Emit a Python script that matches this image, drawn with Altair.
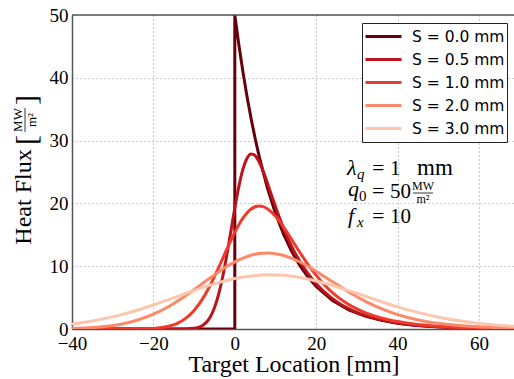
import altair as alt
import pandas as pd

# ---- data ----
labels = ["S = 0.0 mm", "S = 0.5 mm", "S = 1.0 mm", "S = 2.0 mm", "S = 3.0 mm"]
colors = ["#67000d", "#bc141a", "#ef3b2c", "#fc8a6a", "#fcc5ad"]

x_s0 = [-40, 0, 0, 1, 2, 3, 4, 5, 6, 8, 10, 12, 14, 16, 18, 20, 24, 28, 32, 36, 40, 44, 48, 52, 56, 60, 64, 70]
q_s0 = [0, 0, 50, 45.24, 40.94, 37.04, 33.52, 30.33, 27.44, 22.47, 18.39, 15.06, 12.33, 10.09, 8.26, 6.77,
        4.54, 3.04, 2.04, 1.37, 0.92, 0.61, 0.41, 0.28, 0.18, 0.12, 0.08, 0.05]

x_s05 = [-40, -14, -12, -10, -9, -8, -7, -6, -5, -4, -3, -2, -1, 0, 1, 2, 3, 4, 5, 6, 7, 8, 9, 10, 12, 14,
         16, 18, 20, 22, 24, 26, 28, 30, 32, 36, 40, 44, 48, 52, 56, 60, 64, 70]
q_s05 = [0, 0.003, 0.016, 0.106, 0.245, 0.527, 1.054, 1.949, 3.383, 5.463, 8.237, 11.63, 15.42, 19.26, 22.72,
         25.45, 27.19, 27.88, 27.62, 26.59, 25.06, 23.24, 21.33, 19.45, 16.01, 13.12, 10.75, 8.80, 7.20, 5.90,
         4.83, 3.95, 3.24, 2.65, 2.17, 1.45, 0.97, 0.65, 0.44, 0.29, 0.20, 0.13, 0.09, 0.05]

x_s1 = [-40, -30, -24, -20, -18, -16, -14, -12, -10, -8, -6, -4, -2, 0, 2, 4, 5, 6, 7, 8, 10, 12, 14, 16, 18,
        20, 22, 24, 26, 28, 30, 32, 36, 40, 44, 48, 52, 56, 60, 64, 70]
q_s1 = [0, 0.001, 0.015, 0.097, 0.222, 0.474, 0.938, 1.728, 2.957, 4.715, 7.006, 9.727, 12.63, 15.39, 17.64,
        19.10, 19.47, 19.60, 19.49, 19.16, 17.96, 16.22, 14.22, 12.19, 10.26, 8.54, 7.06, 5.80, 4.76, 3.90,
        3.20, 2.62, 1.75, 1.18, 0.79, 0.53, 0.35, 0.24, 0.16, 0.11, 0.06]

x_s2 = [-40, -36, -32, -28, -24, -20, -16, -12, -8, -4, -2, 0, 2, 4, 6, 8, 10, 12, 14, 16, 18, 20, 24, 28, 32,
        36, 40, 44, 48, 52, 56, 60, 64, 70]
q_s2 = [0.082, 0.187, 0.394, 0.770, 1.396, 2.349, 3.672, 5.337, 7.218, 9.094, 9.94, 10.69, 11.30, 11.75, 12.02,
        12.10, 11.99, 11.70, 11.25, 10.67, 9.97, 9.195, 7.537, 5.902, 4.447, 3.232, 2.292, 1.597, 1.088, 0.739,
        0.500, 0.339, 0.231, 0.124]

x_s3 = [-40, -36, -32, -28, -24, -20, -16, -12, -8, -4, 0, 4, 8, 12, 16, 20, 24, 28, 32, 36, 40, 44, 48, 52,
        56, 60, 64, 70]
q_s3 = [0.795, 1.166, 1.647, 2.255, 2.988, 3.821, 4.731, 5.678, 6.579, 7.382, 8.040, 8.447, 8.630, 8.558,
        8.203, 7.644, 6.932, 6.100, 5.228, 4.347, 3.532, 2.803, 2.172, 1.648, 1.225, 0.894, 0.642, 0.381]

series = [(labels[0], x_s0, q_s0), (labels[1], x_s05, q_s05), (labels[2], x_s1, q_s1),
          (labels[3], x_s2, q_s2), (labels[4], x_s3, q_s3)]

SERIF = "Liberation Serif"

color_scale = alt.Scale(domain=labels, range=colors)
x_scale = alt.Scale(domain=[-40, 68.6], nice=False, zero=False)
y_scale = alt.Scale(domain=[0, 50], nice=False)

x_axis = alt.Axis(values=[-40, -20, 0, 20, 40, 60], title=None, format="d", labelFlush=False)
y_axis = alt.Axis(values=[0, 10, 20, 30, 40, 50], title=None, format="d", labelFlush=False)

legend = alt.Legend(orient="none", legendX=290, legendY=8, title=None, symbolType="stroke",
                    symbolSize=1296, symbolStrokeWidth=3, labelFont="DejaVu Sans", labelFontSize=15.5,
                    labelColor="black", labelOffset=9, padding=2, rowPadding=0, clipHeight=23,
                    strokeColor="#222222", fillColor="white", cornerRadius=0, labelLimit=200)

layers = []
for i, (lab, xs, qs) in enumerate(series):
    df = pd.DataFrame({"x": xs, "q": qs, "S": lab, "i": list(range(len(xs)))})
    enc = dict(
        x=alt.X("x:Q", scale=x_scale, axis=x_axis),
        y=alt.Y("q:Q", scale=y_scale, axis=y_axis),
        color=alt.Color("S:N", scale=color_scale, legend=legend if i == 0 else None),
        order=alt.Order("i:Q"),
    )
    interp = "linear" if i == 0 else "monotone"
    layers.append(alt.Chart(df).mark_line(strokeWidth=3, clip=True, interpolate=interp).encode(**enc))

dummy = pd.DataFrame({"d": [0]})

# top frame line
layers.append(alt.Chart(dummy).mark_rule(color="#555555", strokeWidth=1.5).encode(
    y=alt.datum(50, scale=y_scale)))


def txt(text, x, y, size, font=SERIF, style="normal", angle=0, align="left", baseline="alphabetic"):
    return alt.Chart(dummy).mark_text(text=text, x=x, y=y, fontSize=size, font=font, fontStyle=style,
                                      angle=angle, align=align, baseline=baseline, color="black")


# x-axis title
layers.append(txt("Target Location [mm]", 222, 357, 24, align="center"))

# y-axis title (rotated) with stacked unit fraction
layers.append(txt("Heat Flux", -48, 182, 24, angle=270, align="center", baseline="middle"))
layers.append(txt("[", -45, 125, 30, angle=270, align="center", baseline="middle"))
layers.append(txt("]", -45, 85, 30, angle=270, align="center", baseline="middle"))
layers.append(txt("MW", -54, 105, 13, angle=270, align="center", baseline="middle"))
layers.append(txt("m²", -40, 105, 13, angle=270, align="center", baseline="middle"))
layers.append(alt.Chart(dummy).mark_rule(color="black", strokeWidth=0.8).encode(
    x=alt.value(-47), y=alt.value(93), y2=alt.value(117)))

# parameter annotation
layers.append(txt("λ", 275, 160, 22, style="italic"))
layers.append(txt("q", 285, 164, 15, style="italic"))
layers.append(txt("=", 300, 160, 22))
layers.append(txt("1", 318, 160, 21))
layers.append(txt("mm", 345, 160, 23))
layers.append(txt("q", 276, 181, 22, style="italic"))
layers.append(txt("0", 287, 186, 15))
layers.append(txt("=", 300, 183, 22))
layers.append(txt("50", 318, 183, 21))
layers.append(txt("MW", 351, 175, 12, align="center"))
layers.append(alt.Chart(dummy).mark_rule(color="black", strokeWidth=0.8).encode(
    x=alt.value(341), x2=alt.value(361), y=alt.value(178)))
layers.append(txt("m²", 351, 188, 12, align="center"))
layers.append(txt("f", 276, 208, 22, style="italic"))
layers.append(txt("x", 285, 212, 15, style="italic"))
layers.append(txt("=", 300, 208, 22))
layers.append(txt("10", 318, 208, 21))

chart = alt.layer(*layers).properties(
    width=442, height=314,
    autosize=alt.AutoSizeParams(type="none"),
    padding={"left": 72, "top": 15, "right": 0, "bottom": 50},
).configure_view(stroke=None).configure_axis(
    domainColor="#555555", domainWidth=1.5, grid=True, gridColor="#9a9a9a", gridDash=[1, 3],
    gridWidth=1, ticks=False, tickSize=0, labelFont=SERIF, labelFontSize=19, labelColor="black",
    labelPadding=5,
).configure_axisY(labelPadding=4)

chart.save("out.html", embed_options={"renderer": "svg", "actions": False})
